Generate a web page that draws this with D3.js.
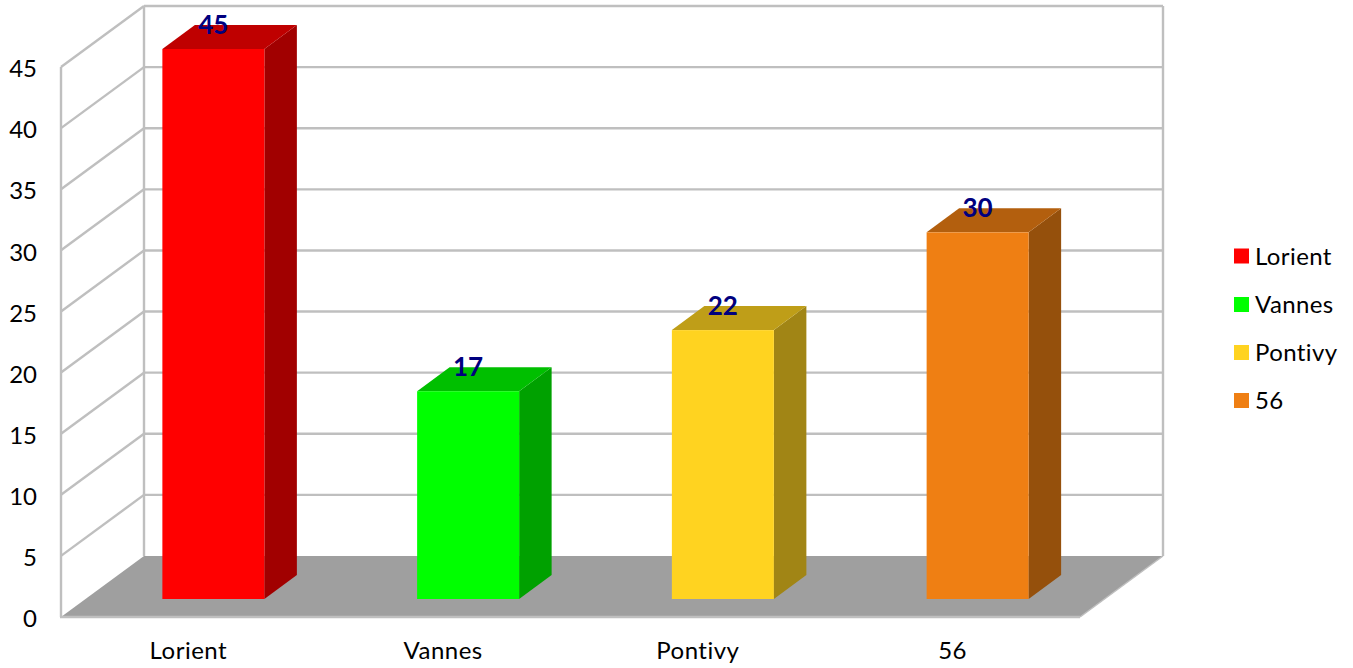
<!DOCTYPE html>
<html><head><meta charset="utf-8">
<script src="https://cdn.jsdelivr.net/npm/d3@7"></script>
<style>html,body{margin:0;padding:0;background:#fff}svg{display:block}text{font-family:Lato,"Open Sans",sans-serif}</style>
</head><body><svg id="c" width="1353" height="668"></svg>
<script>
const categories = ["Lorient","Vannes","Pontivy","56"];
const values = [45,17,22,30];
const faceColors = ["#ff0000","#00ff00","#ffd320","#ef7f13"];
const topColors = ["#bf0000","#00bf00","#bf9e18","#b35f0e"];
const sideColors = ["#a10000","#00a100","#a18515","#95500c"];
const yTicks = d3.range(0,50,5);
const legendPositions = [256,304.5,352.5,400.5];

const svg = d3.select("#c");
const x0=61,x1=1080,yBase=617,yTop=67,depX=83,depY=61;
const x = d3.scaleBand().domain(categories).range([x0,x1]);
const y = d3.scaleLinear().domain([0,45]).range([yBase,yTop]);
const barW=102, barDepX=32.5, barDepY=24, barShiftX=25, barShiftY=18;
const grid="#bfbfbf", gw=2.4;

// gridlines: back wall + left wall
const g = svg.append("g").attr("stroke",grid).attr("stroke-width",gw).attr("fill","none");
g.selectAll(".b").data(yTicks.slice(1)).join("line")
  .attr("x1",x0+depX).attr("x2",x1+depX)
  .attr("y1",d=>y(d)-depY).attr("y2",d=>y(d)-depY);
g.selectAll(".l").data(yTicks.slice(1)).join("line")
  .attr("x1",x0).attr("x2",x0+depX)
  .attr("y1",d=>y(d)).attr("y2",d=>y(d)-depY);
g.append("line").attr("x1",x0).attr("x2",x0).attr("y1",y(45)).attr("y2",y(0));
g.append("line").attr("x1",x0+depX).attr("x2",x0+depX).attr("y1",y(45)-depY).attr("y2",y(0)-depY);
g.append("line").attr("x1",x1+depX).attr("x2",x1+depX).attr("y1",y(45)-depY).attr("y2",y(0)-depY);
// floor
svg.append("polygon").attr("fill","#9f9f9f")
  .attr("points",[[x0,yBase],[x1,yBase],[x1+depX,yBase-depY],[x0+depX,yBase-depY]].join(" "));
const e = svg.append("g").attr("stroke",grid).attr("fill","none");
e.append("line").attr("stroke-width",gw).attr("x1",x0-1).attr("x2",x1).attr("y1",yBase).attr("y2",yBase);
e.append("line").attr("stroke-width",1.5).attr("x1",x1).attr("x2",x1+depX).attr("y1",yBase).attr("y2",yBase-depY);

// bars
const bars = svg.selectAll(".bar").data(categories.map((c,i)=>({c,v:values[i],i}))).join("g");
const L=d=>x(d.c)+barShiftX+(x.bandwidth()-barW)/2;
const R=d=>L(d)+barW;
const B=()=>yBase-barShiftY;
const T=d=>y(d.v)-barShiftY;
bars.append("polygon").attr("fill",d=>sideColors[d.i])
  .attr("points",d=>[[R(d),B()],[R(d)+barDepX,B()-barDepY],[R(d)+barDepX,T(d)-barDepY],[R(d),T(d)]].join(" "));
bars.append("polygon").attr("fill",d=>topColors[d.i])
  .attr("points",d=>[[L(d),T(d)],[R(d),T(d)],[R(d)+barDepX,T(d)-barDepY],[L(d)+barDepX,T(d)-barDepY]].join(" "));
bars.append("rect").attr("fill",d=>faceColors[d.i])
  .attr("x",L).attr("y",T).attr("width",barW).attr("height",d=>B()-T(d));
bars.append("text").text(d=>d.v)
  .attr("x",d=>L(d)+barW/2).attr("y",d=>T(d)-15)
  .attr("text-anchor","middle").attr("font-size",26).attr("font-weight",700).attr("fill","#00007f");

// axes
const ay = svg.append("g").attr("transform",`translate(${x0},2)`)
  .call(d3.axisLeft(y).tickValues(yTicks).tickSize(0).tickPadding(24));
ay.select(".domain").remove();
ay.selectAll("text").attr("font-size",24).attr("fill","#000").style("font-family","Lato");
const ax = svg.append("g").attr("transform",`translate(0,${yBase})`)
  .call(d3.axisBottom(x).tickSize(0).tickPadding(25));
ax.select(".domain").remove();
ax.selectAll("text").attr("font-size",24).attr("fill","#000").style("font-family","Lato").style("letter-spacing","0.5px");

// legend
const legY=d3.scaleOrdinal().domain(categories).range(legendPositions);
const leg=svg.selectAll(".leg").data(categories.map((c,i)=>({c,i}))).join("g");
leg.append("rect").attr("x",1234).attr("y",d=>legY(d.c)-7.5).attr("width",15).attr("height",15).attr("fill",d=>faceColors[d.i]);
leg.append("text").text(d=>d.c).attr("x",1255).attr("y",d=>legY(d.c)+8.5).attr("font-size",24).style("letter-spacing","0.4px").attr("fill","#000");
</script></body></html>
